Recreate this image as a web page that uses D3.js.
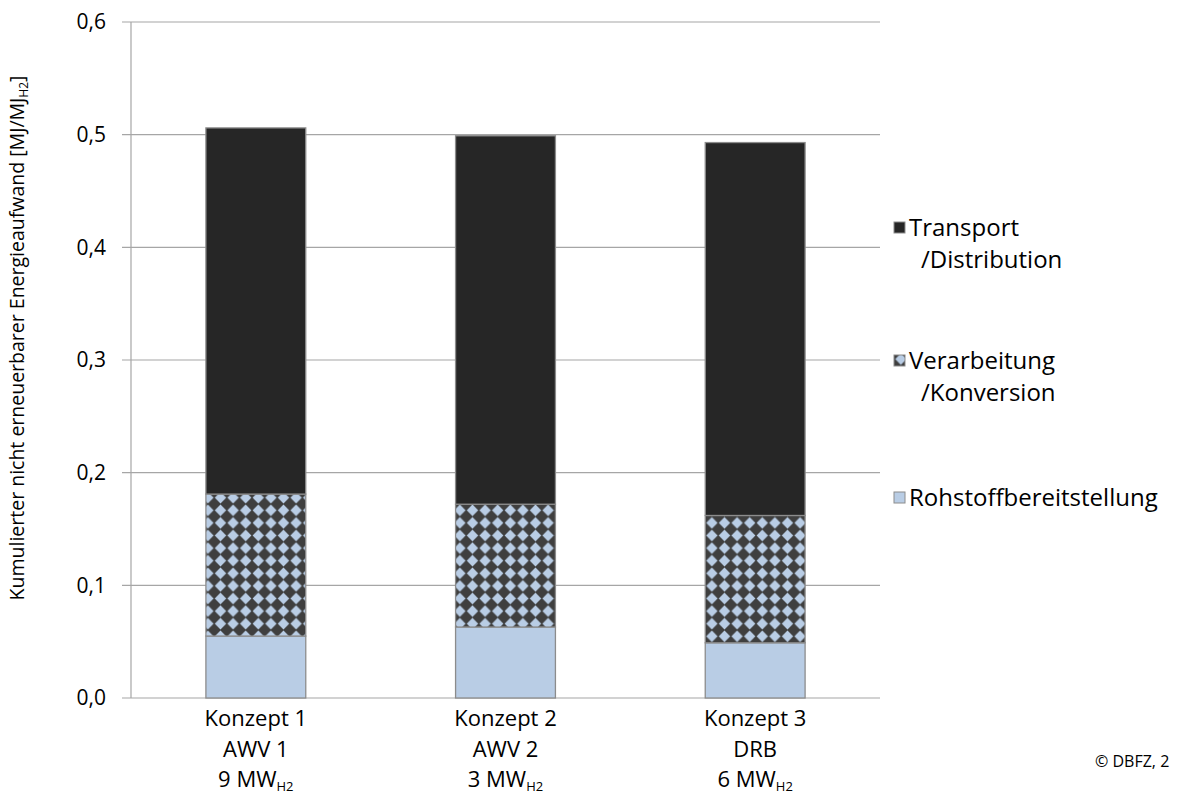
<!DOCTYPE html>
<html><head><meta charset="utf-8">
<script src="https://cdn.jsdelivr.net/npm/d3@7"></script>
<style>body{margin:0;background:#fff}text{font-family:"Open Sans",sans-serif}</style>
</head><body>
<svg id="c" width="1178" height="796"></svg>
<script>
const categories = ["Konzept 1", "Konzept 2", "Konzept 3"];
const catLine2 = ["AWV 1", "AWV 2", "DRB"];
const catLine3 = ["9", "3", "6"];
const seriesNames = ["Rohstoffbereitstellung", "Verarbeitung /Konversion", "Transport /Distribution"];
const rohstoff = [0.055, 0.063, 0.049];
const verarbeitung = [0.126, 0.109, 0.113];
const transport = [0.325, 0.327, 0.331];
const yTicks = [0, 0.1, 0.2, 0.3, 0.4, 0.5, 0.6];

const svg = d3.select("#c");
const m = {l:131, r:880, t:22, b:698};
const x = d3.scaleBand().domain(categories).range([m.l, m.r]).paddingInner(0.6).paddingOuter(0.3);
const y = d3.scaleLinear().domain([0, 0.6]).range([m.b, m.t]);

const defs = svg.append("defs");
const p = 12.6;
const pat = defs.append("pattern").attr("id","chk").attr("patternUnits","userSpaceOnUse")
  .attr("width", p).attr("height", p).attr("x", 0).attr("y", 0);
pat.append("rect").attr("width", p).attr("height", p).attr("fill", "#3f3f3f");
pat.append("path").attr("fill","#b9cde5")
  .attr("d", `M${p/2},0.6 L${p-0.6},${p/2} L${p/2},${p-0.6} L0.6,${p/2} Z`);

svg.append("g").selectAll("line").data(yTicks).join("line")
  .attr("x1", m.l - 9).attr("x2", m.r).attr("y1", d => y(d)).attr("y2", d => y(d))
  .attr("stroke", "#a6a6a6").attr("stroke-width", 1.2);
svg.append("line").attr("x1", m.l).attr("x2", m.l).attr("y1", m.t).attr("y2", m.b)
  .attr("stroke", "#a6a6a6").attr("stroke-width", 1.2);

svg.append("g").selectAll("text").data(yTicks).join("text")
  .attr("x", m.l - 25).attr("y", d => y(d)).attr("dy", "0.35em").attr("text-anchor","end")
  .attr("font-size", 21).attr("fill","#000").text(d => d3.format(".1f")(d).replace(".", ","));

const stackData = categories.map((c,i) => ({cat:c, r:rohstoff[i], v:verarbeitung[i], t:transport[i]}));
const stack = d3.stack().keys(["r","v","t"])(stackData);
const fills = {r:"#b9cde5", v:"url(#chk)", t:"#262626"};
svg.append("g").selectAll("g").data(stack).join("g")
  .attr("fill", d => fills[d.key])
  .selectAll("rect").data(d => d).join("rect")
  .attr("x", d => x(d.data.cat)).attr("width", x.bandwidth())
  .attr("y", d => y(d[1])).attr("height", d => y(d[0]) - y(d[1]))
  .attr("stroke", "#8c8c8c").attr("stroke-width", 1.3);

const xl = svg.append("g").selectAll("text").data(categories).join("text")
  .attr("text-anchor","middle").attr("font-size", 22).attr("fill","#000");
xl.each(function(d,i){
  const t = d3.select(this);
  const cx = x(d) + x.bandwidth()/2;
  t.append("tspan").attr("x", cx).attr("y", 726).text(d);
  t.append("tspan").attr("x", cx).attr("y", 757).text(catLine2[i]);
  const t3 = t.append("tspan").attr("x", cx).attr("y", 787);
  t3.append("tspan").text(catLine3[i] + " MW");
  t3.append("tspan").attr("font-size", 13).attr("dy", 4).text("H2");
});

const yt = svg.append("text").attr("transform", "translate(24,338) rotate(-90)")
  .attr("text-anchor","middle").attr("font-size", 19.5).attr("fill","#000");
yt.append("tspan").text("Kumulierter nicht erneuerbarer Energieaufwand [MJ/MJ");
yt.append("tspan").attr("font-size", 12).attr("dy", 4).text("H2");
yt.append("tspan").attr("dy", -4).text("]");

const legend = [
  {name:["Transport","/Distribution"], fill:"#262626", y:228},
  {name:["Verarbeitung","/Konversion"], fill:"url(#chk)", y:361},
  {name:["Rohstoffbereitstellung"], fill:"#b9cde5", y:498}
];
const lg = svg.append("g").selectAll("g").data(legend).join("g");
lg.append("rect").attr("x", 894).attr("y", d => d.y - 6).attr("width", 11).attr("height", 11)
  .attr("fill", d => d.fill).attr("stroke","#8c8c8c").attr("stroke-width",1);
lg.each(function(d){
  const g = d3.select(this);
  d.name.forEach((n,k) => {
    g.append("text").attr("x", k === 0 ? 909 : 921).attr("y", d.y + k*32).attr("dy","0.35em")
      .attr("font-size", 24).attr("fill","#000").text(n);
  });
});

svg.append("text").attr("x", 1095).attr("y", 767).attr("font-size", 16)
  .attr("font-family","Liberation Sans, Arial, sans-serif").attr("fill","#000").text("© DBFZ, 2");
</script>
</body></html>
